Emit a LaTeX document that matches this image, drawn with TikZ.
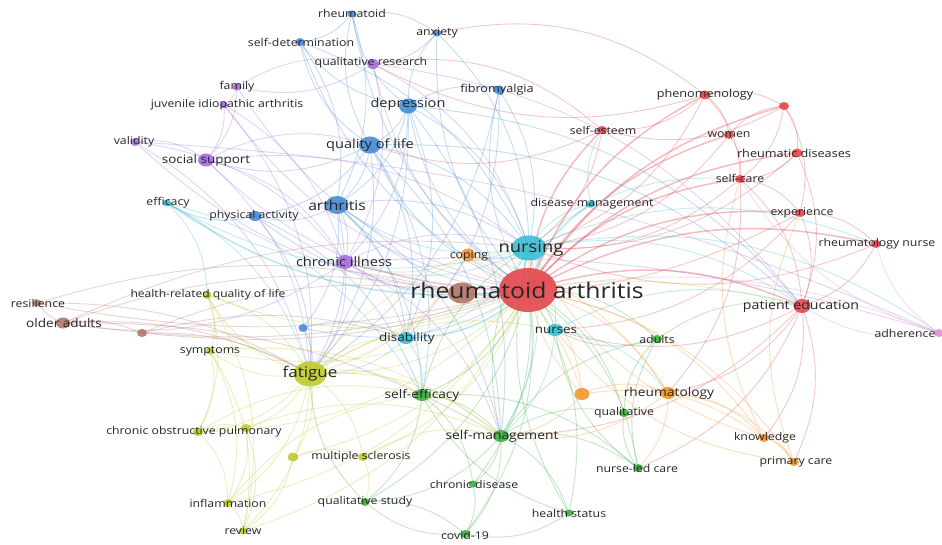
\documentclass[tikz,border=0pt]{standalone}
\usepackage{fontspec}
\setmainfont{Open Sans}
\usepackage{graphicx}
\usetikzlibrary{shapes.geometric}
\definecolor{cR}{RGB}{228,72,78}
\definecolor{cB}{RGB}{70,140,212}
\definecolor{cP}{RGB}{165,110,222}
\definecolor{cC}{RGB}{60,190,212}
\definecolor{cY}{RGB}{192,202,45}
\definecolor{cG}{RGB}{62,175,62}
\definecolor{cO}{RGB}{245,150,45}
\definecolor{cBr}{RGB}{178,118,104}
\definecolor{cPk}{RGB}{228,140,212}
\definecolor{txt}{RGB}{38,38,38}
\pgfdeclarelayer{bg}
\pgfdeclarelayer{edges}
\pgfsetlayers{bg,edges,main}
\tikzset{
  kw/.style={ellipse, inner sep=0pt, draw=none, fill opacity=0.9},
  lab/.style={inner sep=0pt, text=txt},
  ed/.style={line width=0.9pt, opacity=0.3},
  hub/.style={line width=1.5pt, opacity=0.36},
  edR/.style={ed, draw=cR}, edB/.style={ed, draw=cB}, edP/.style={ed, draw=cP},
  edC/.style={ed, draw=cC}, edY/.style={ed, draw=cY}, edG/.style={ed, draw=cG},
  edO/.style={ed, draw=cO}, edBr/.style={ed, draw=cBr}, edPk/.style={ed, draw=cPk}
}
\newcommand\kwn[6]{\node[kw, fill=#6, minimum width=#4pt, minimum height=#5pt] (#1) at (#2,#3) {};}
\newcommand\kwl[5]{\node[lab] (#1) at (#2,#3) {\fontsize{#4}{#4}\selectfont\scalebox{1.15}[1]{#5}};}
\newcommand\edgeset[3]{\foreach \p/\q in {#3} {\draw[#1] (\p.center) to[bend left=#2] (\q.center);}}
\begin{document}
\begin{tikzpicture}[x=1pt, y=-1pt]
\begin{pgfonlayer}{bg}
\fill[white] (0,0) rectangle (942,545);
\end{pgfonlayer}
\useasboundingbox (0,0) rectangle (942,545);
% nodes
\kwn{brownra}{462}{293}{28}{21}{cBr}
\kwn{ra}{528}{290}{58}{44}{cR}
\kwn{nur}{529}{248}{35}{25}{cC}
\kwn{dep}{408}{106}{18}{15}{cB}
\kwn{qol}{370}{145}{22}{17}{cB}
\kwn{art}{337}{205}{23}{18}{cB}
\kwn{physact}{255}{216}{13}{10}{cB}
\kwn{rhd}{352}{14}{9}{7}{cB}
\kwn{anx}{437}{33}{9}{7}{cB}
\kwn{selfdet}{300}{42}{9}{8}{cB}
\kwn{fibro}{499}{90}{11}{9}{cB}
\kwn{bsmall}{303}{328}{9}{8}{cB}
\kwn{qualres}{373}{64}{12}{10}{cP}
\kwn{family}{237}{87}{9}{7}{cP}
\kwn{jia}{224}{105}{8}{7}{cP}
\kwn{validity}{135}{142}{9}{8}{cP}
\kwn{socsup}{206}{160}{16}{13}{cP}
\kwn{chronill}{345}{262}{17}{14}{cP}
\kwn{efficacy}{167}{203}{8}{7}{cC}
\kwn{disman}{591}{204}{9}{7}{cC}
\kwn{nurses}{555}{330}{16}{12}{cC}
\kwn{disab}{406}{338}{16}{12}{cC}
\kwn{phen}{705}{95}{11}{9}{cR}
\kwn{redx}{784}{106}{10}{8}{cR}
\kwn{selfest}{602}{130}{10}{8}{cR}
\kwn{women}{729}{135}{10}{8}{cR}
\kwn{rheudis}{797}{153}{11}{9}{cR}
\kwn{selfcare}{740}{179}{10}{8}{cR}
\kwn{exper}{800}{213}{10}{8}{cR}
\kwn{rnurse}{876}{244}{10}{8}{cR}
\kwn{pated}{802}{306}{17}{14}{cR}
\kwn{adher}{939}{333}{10}{8}{cPk}
\kwn{resil}{37}{303}{9}{7}{cBr}
\kwn{olderad}{63}{323}{14}{11}{cBr}
\kwn{brownx}{142}{333}{10}{8}{cBr}
\kwn{hrqol}{207}{295}{9}{8}{cY}
\kwn{sympt}{210}{351}{9}{7}{cY}
\kwn{fatigue}{310}{374}{33}{25}{cY}
\kwn{copd}{198}{432}{10}{8}{cY}
\kwn{yel2}{246}{428}{10}{8}{cY}
\kwn{yelx}{293}{457}{11}{9}{cY}
\kwn{ms}{363}{457}{10}{8}{cY}
\kwn{inflam}{228}{503}{9}{8}{cY}
\kwn{review}{243}{531}{9}{7}{cY}
\kwn{selfeff}{422}{395}{16}{12}{cG}
\kwn{selfman}{501}{436}{16}{12}{cG}
\kwn{chrdis}{473}{484}{9}{7}{cG}
\kwn{qualstudy}{365}{502}{9}{8}{cG}
\kwn{covid}{465}{534}{10}{8}{cG}
\kwn{healthst}{569}{513}{9}{7}{cG}
\kwn{nlc}{638}{468}{10}{8}{cG}
\kwn{qualitative}{624}{413}{10}{8}{cG}
\kwn{adults}{657}{339}{10}{8}{cG}
\kwn{coping}{468}{255}{14}{13}{cO}
\kwn{orgx}{582}{394}{15}{12}{cO}
\kwn{rheumatology}{668}{393}{15}{12}{cO}
\kwn{knowledge}{764}{438}{10}{8}{cO}
\kwn{primcare}{794}{462}{10}{8}{cO}
% labels
\kwl{ra-l}{527}{290}{21.5}{rheumatoid arthritis}
\kwl{nur-l}{531}{249}{16}{nursing}
\kwl{dep-l}{408}{104}{12.6}{depression}
\kwl{qol-l}{370}{145}{12.7}{quality of life}
\kwl{art-l}{337}{205}{13.6}{arthritis}
\kwl{physact-l}{254}{216}{10.7}{physical activity}
\kwl{rhd-l}{352}{13}{10.7}{rheumatoid}
\kwl{anx-l}{437}{33}{10.7}{anxiety}
\kwl{selfdet-l}{301}{42}{10.7}{self-determination}
\kwl{fibro-l}{497}{90}{11}{fibromyalgia}
\kwl{qualres-l}{371}{63}{10.7}{qualitative research}
\kwl{family-l}{237}{87}{10.7}{family}
\kwl{jia-l}{227}{105}{10.7}{juvenile idiopathic arthritis}
\kwl{validity-l}{134}{142}{10.7}{validity}
\kwl{socsup-l}{206}{160}{11.7}{social support}
\kwl{chronill-l}{344}{262}{12.7}{chronic illness}
\kwl{efficacy-l}{168}{203}{10.7}{efficacy}
\kwl{disman-l}{592}{204}{10.7}{disease management}
\kwl{nurses-l}{556}{330}{11.6}{nurses}
\kwl{disab-l}{407}{338}{11.7}{disability}
\kwl{phen-l}{705}{95}{11}{phenomenology}
\kwl{selfest-l}{603}{130}{10.7}{self-esteem}
\kwl{women-l}{729}{135}{10.7}{women}
\kwl{rheudis-l}{794}{153}{11}{rheumatic diseases}
\kwl{selfcare-l}{740}{178}{10.7}{self-care}
\kwl{exper-l}{802}{213}{10.7}{experience}
\kwl{rnurse-l}{877}{244}{10.7}{rheumatology nurse}
\kwl{pated-l}{801}{306}{12.3}{patient education}
\kwl{adher-l}{905}{333}{10.7}{adherence}
\kwl{resil-l}{38}{303}{10.7}{resilience}
\kwl{olderad-l}{64}{323}{11.8}{older adults}
\kwl{hrqol-l}{208}{295}{10.5}{health-related quality of life}
\kwl{sympt-l}{210}{351}{10.7}{symptoms}
\kwl{fatigue-l}{310}{374}{14.8}{fatigue}
\kwl{copd-l}{194}{432}{10.7}{chronic obstructive pulmonary}
\kwl{ms-l}{361}{457}{10.7}{multiple sclerosis}
\kwl{inflam-l}{228}{503}{10.7}{inflammation}
\kwl{review-l}{243}{531}{10.7}{review}
\kwl{qualstudy-l}{365}{502}{10.7}{qualitative study}
\kwl{selfeff-l}{422}{395}{11.9}{self-efficacy}
\kwl{selfman-l}{502}{436}{12}{self-management}
\kwl{chrdis-l}{474}{484}{10.7}{chronic disease}
\kwl{covid-l}{465}{535}{10.7}{covid-19}
\kwl{healthst-l}{569}{513}{10.7}{health status}
\kwl{nlc-l}{637}{468}{10.7}{nurse-led care}
\kwl{qualitative-l}{624}{413}{10.7}{qualitative}
\kwl{adults-l}{657}{339}{10.7}{adults}
\kwl{coping-l}{469}{256}{10.7}{coping}
\kwl{rheumatology-l}{669}{393}{12}{rheumatology}
\kwl{knowledge-l}{765}{438}{10.7}{knowledge}
\kwl{primcare-l}{796}{462}{10.7}{primary care}
% edges
\begin{pgfonlayer}{edges}
\edgeset{edR,hub,draw=cR}{20}{ra/pated, ra/selfcare, ra/rheudis, ra/women, ra/phen, ra/selfest, ra/exper, ra/rnurse, ra/redx}
\edgeset{edC,hub,draw=cC}{20}{ra/nur, ra/nurses, ra/disab, ra/disman, ra/efficacy}
\edgeset{edB}{22}{ra/dep, ra/qol, ra/art, ra/fibro, ra/anx, ra/rhd, ra/selfdet, ra/physact, ra/bsmall}
\edgeset{edP}{22}{ra/chronill, ra/qualres, ra/socsup, ra/jia, ra/family, ra/validity}
\edgeset{edY}{22}{ra/fatigue, ra/hrqol, ra/sympt, ra/copd, ra/ms, ra/inflam, ra/yelx, ra/review}
\edgeset{edG}{22}{ra/selfeff, ra/selfman, ra/adults, ra/qualitative, ra/nlc, ra/healthst, ra/chrdis, ra/covid, ra/qualstudy}
\edgeset{edO}{22}{ra/coping, ra/orgx, ra/rheumatology, ra/knowledge, ra/primcare}
\edgeset{edBr}{12}{ra/olderad, ra/resil, ra/brownx, ra/brownra}
\edgeset{edPk}{15}{ra/adher}
\edgeset{edB}{22}{dep/qol, dep/art, dep/anx, dep/rhd, dep/fibro, dep/selfdet, dep/nur, dep/chronill, dep/disab, dep/fatigue, qol/art, qol/physact, qol/selfdet, qol/rhd, qol/nur, qol/fatigue, qol/disab, qol/selfeff, qol/socsup, art/physact, art/nur, art/chronill, art/fatigue, art/selfman, art/selfeff, art/bsmall, art/disab, physact/fatigue, physact/efficacy, physact/selfeff, rhd/selfdet, rhd/anx, anx/qualres, fibro/fatigue, fibro/nur, fibro/disab, selfdet/art, selfdet/nur, bsmall/disab, bsmall/fatigue, anx/nur, rhd/art, qol/selfman, dep/selfman, qol/pated, dep/pated}
\edgeset{edP}{22}{qualres/nur, qualres/chronill, qualres/pated, qualres/family, family/jia, family/socsup, jia/socsup, jia/chronill, validity/socsup, validity/chronill, socsup/chronill, socsup/qol, socsup/nur, socsup/fatigue, chronill/nur, chronill/fatigue, chronill/selfman, chronill/disab, chronill/olderad, family/qualres, jia/fatigue, validity/fatigue}
\edgeset{edP}{10}{validity/adher, chronill/adher}
\edgeset{edC}{22}{nur/nurses, nur/disman, nur/pated, nur/selfcare, nur/rnurse, nur/efficacy, nur/disab, nur/coping, nur/selfman, nurses/selfman, nurses/rheumatology, nurses/pated, disab/selfeff, disab/fatigue, efficacy/selfeff, efficacy/hrqol, disman/selfest, nur/chronill, nur/art, efficacy/fatigue, nur/adher}
\edgeset{edR}{22}{phen/women, phen/redx, phen/selfcare, phen/selfest, phen/qualres, women/selfcare, women/redx, redx/selfcare, redx/rheudis, redx/exper, redx/selfest, rheudis/selfcare, rheudis/pated, selfcare/pated, selfcare/exper, selfcare/nur, exper/pated, exper/rnurse, rnurse/pated, pated/knowledge, pated/rheumatology, pated/primcare, pated/nurses, selfest/qol, selfest/nur, selfcare/rheumatology, exper/nurses, women/nur, rheudis/nur, phen/nur, pated/selfman, pated/nlc, rnurse/nur, exper/chronill}
\edgeset{edR}{25}{anx/phen, qualres/selfest}
\edgeset{edPk}{20}{adher/rnurse, adher/selfcare, adher/pated}
\edgeset{edBr}{15}{olderad/resil, olderad/brownx, olderad/fatigue, olderad/brownra, olderad/selfman, resil/brownra, brownx/brownra, brownx/fatigue, resil/fatigue, olderad/nur, brownx/disab}
\edgeset{edY}{22}{fatigue/hrqol, fatigue/sympt, fatigue/copd, fatigue/yel2, fatigue/yelx, fatigue/ms, fatigue/inflam, fatigue/review, fatigue/selfeff, fatigue/selfman, fatigue/disab, hrqol/sympt, hrqol/copd, sympt/inflam, copd/yel2, copd/inflam, yel2/review, yel2/inflam, yelx/ms, yelx/review, ms/qualstudy, ms/selfman, inflam/review, sympt/review, hrqol/review, fatigue/nur, fatigue/nurses, sympt/selfman, hrqol/fatigue, copd/selfeff, inflam/selfeff, yel2/selfman, sympt/copd, fatigue/pated}
\edgeset{edG}{22}{selfeff/selfman, selfeff/chrdis, selfeff/qualstudy, selfeff/nlc, selfman/chrdis, selfman/covid, selfman/healthst, selfman/nlc, selfman/qualitative, selfman/adults, selfman/qualstudy, nlc/qualitative, nlc/adults, healthst/covid, healthst/selfeff, chrdis/covid, qualstudy/covid, qualitative/adults, adults/nurses, selfman/nur, selfeff/nur, nlc/nurses, healthst/nur, covid/qualstudy, qualstudy/fatigue, adults/pated}
\edgeset{edO}{22}{coping/rheumatology, coping/orgx, orgx/rheumatology, rheumatology/knowledge, rheumatology/primcare, knowledge/primcare, orgx/knowledge, rheumatology/selfman, rheumatology/nlc, coping/chronill, orgx/selfman, knowledge/selfcare, primcare/exper, coping/fatigue, orgx/nur, primcare/nurses, knowledge/nur}
\end{pgfonlayer}
\end{tikzpicture}
\end{document}
